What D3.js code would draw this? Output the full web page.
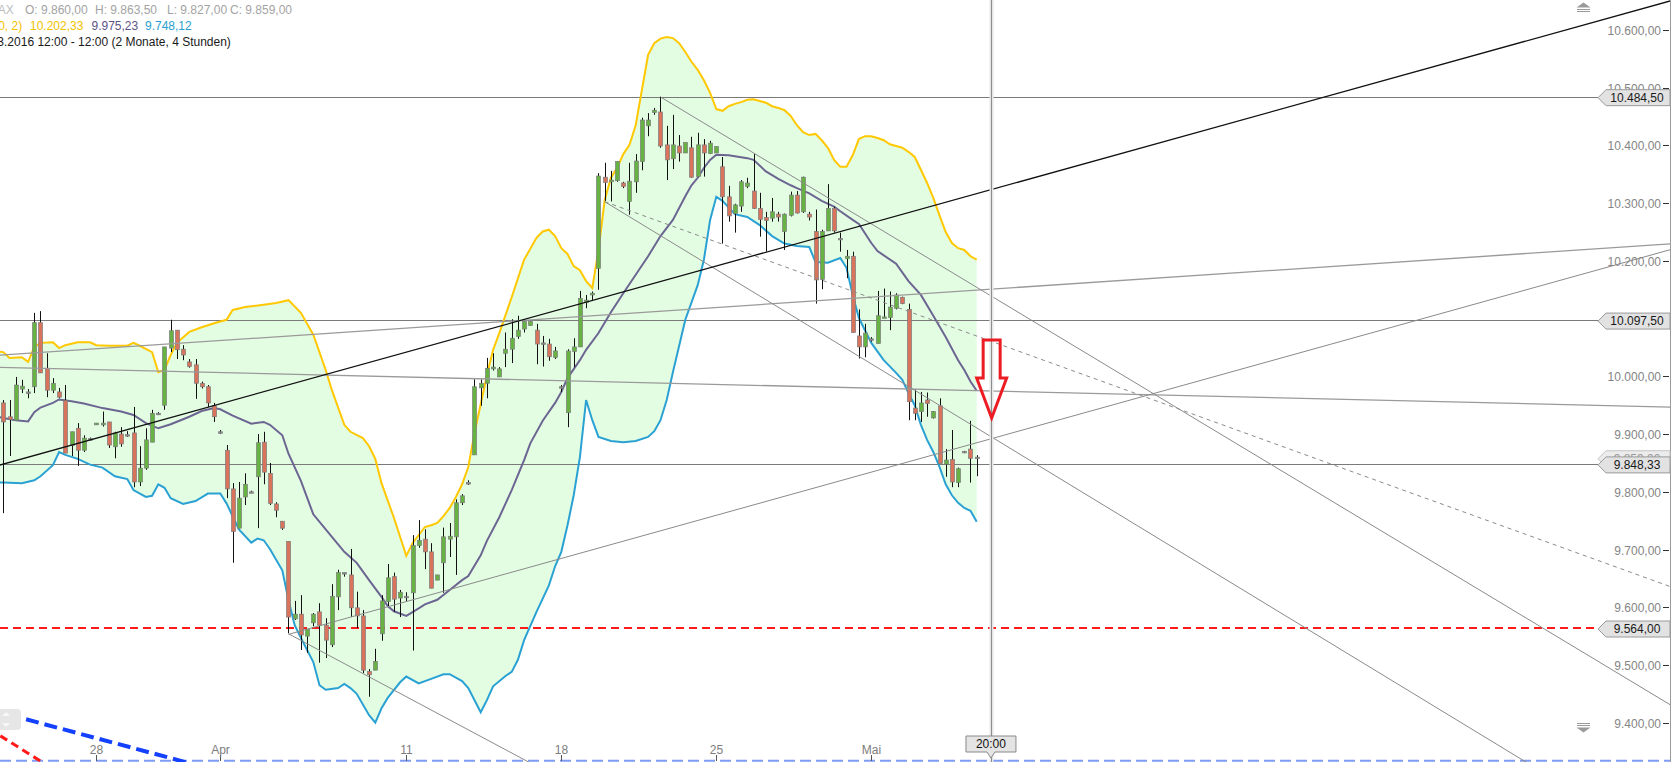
<!DOCTYPE html>
<html><head><meta charset="utf-8">
<script src="https://cdn.jsdelivr.net/npm/d3@7"></script>
<style>
html,body{margin:0;padding:0;background:#fff;overflow:hidden}
svg{display:block;font-family:"Liberation Sans",Arial,sans-serif}
</style></head><body>
<svg id="c" width="1671" height="762"></svg>
<script>
// ---------------- DATA ----------------
const candleOpen = [9954,9930,9924,9978,9972,9982,10093,10014,9976,9973,9958,9880,9910,9872,9892,9916,9916,9921,9878,9900,9898,9902,9817,9841,9886,9935,9950,10049,10080,10047,10025,10020,9988,9982,9949,9904,9872,9805,9737,9791,9800,9826,9886,9832,9779,9749,9714,9580,9588,9550,9573,9592,9569,9535,9618,9659,9656,9599,9585,9489,9491,9554,9610,9653,9616,9618,9625,9707,9718,9696,9647,9677,9718,9722,9781,9815,9864,9980,9988,10013,9999,10040,10047,10069,10082,10088,10080,10058,10056,10033,9982,9937,10043,10051,10128,10141,10187,10345,10337,10339,10335,10303,10337,10372,10434,10457,10458,10401,10377,10399,10387,10396,10346,10401,10386,10387,10363,10311,10282,10295,10329,10321,10291,10275,10274,10281,10251,10279,10314,10285,10281,10251,10168,10252,10291,10239,10204,10208,10070,10051,10064,10057,10101,10102,10118,10137,10116,9945,9939,9959,9928,9949,9848,9856,9816,9870,9874,9860];
const candleHigh = [9959,9959,9999,9994,9978,10110,10113,10040,9997,9980,9985,9904,9919,9898,9894,9919,9939,9921,9904,9912,9905,9947,9879,9910,9942,9938,10051,10098,10080,10054,10030,10030,9991,9985,9954,9907,9881,9815,9817,9832,9802,9900,9904,9850,9782,9749,9714,9611,9621,9562,9590,9607,9581,9640,9665,9660,9701,9627,9595,9493,9528,9621,9675,9660,9630,9626,9725,9751,9735,9711,9656,9738,9746,9787,9796,9820,9995,9995,10032,10040,10016,10076,10099,10105,10099,10095,10091,10070,10065,10051,9985,10047,10066,10148,10141,10147,10352,10370,10356,10373,10337,10370,10385,10448,10456,10465,10484.5,10434,10453,10418,10405,10415,10422,10411,10408,10398,10380,10330,10299,10340,10344,10385,10318,10285,10309,10285,10282,10320,10321,10346,10285,10289,10254,10333,10294,10249,10219,10216,10116,10091,10068,10148,10152,10147,10144,10138,10126,9978,9973,9972,9940,9962,9874,9907,9842,9871,9923,9863.5];
const candleLow = [9763,9862,9924,9971,9962,9971,10006,9964,9971,9962,9867,9862,9845,9869,9890,9916,9913,9876,9858,9878,9895,9808,9810,9838,9886,9933,9942,10042,10030,10028,10015,9961,9979,9947,9921,9900,9789,9677,9737,9777,9798,9737,9813,9777,9756,9734,9555,9578,9526,9521,9567,9504,9512,9531,9595,9653,9583,9564,9486,9445,9491,9542,9601,9592,9583,9610,9525,9703,9666,9633,9647,9625,9687,9656,9777,9812,9864,9949,9962,10010,9999,10016,10023,10065,10076,10088,10021,10017,10027,10030,9973,9912,10016,10051,10118,10132,10150,10304,10303,10337,10326,10280,10318,10357,10416,10453,10396,10340,10359,10372,10387,10344,10345,10346,10385,10387,10230,10268,10249,10285,10326,10290,10242,10216,10268,10268,10219,10277,10282,10283,10270,10126,10151,10252,10249,10216,10170,10076,10031,10033,10060,10057,10101,10080,10116,10125,9924,9924,9921,9930,9927,9849,9826,9808,9808,9867,9816,9827];
const candleClose = [9921,9925,9985,9983,9973,10093,10006,9976,9988,9964,9867,9904,9872,9893,9892,9919,9919,9881,9902,9883,9899,9817,9841,9890,9936,9936,10051,10079,10046,10037,10017,9988,9982,9954,9930,9903,9805,9731,9789,9813,9800,9885,9834,9780,9768,9737,9583,9588,9552,9562,9588,9569,9543,9619,9660,9660,9599,9585,9491,9483,9506,9611,9651,9614,9626,9619,9707,9716,9696,9633,9656,9722,9723,9781,9793,9816,9982,9988,10014,10016,10013,10047,10066,10080,10095,10095,10056,10057,10034,10044,9981,10044,10051,10135,10132,10144,10347,10336,10340,10372,10329,10338,10373,10444,10444,10461,10399,10375,10401,10387,10405,10345,10401,10387,10404,10398,10311,10278,10297,10337,10335,10291,10272,10270,10285,10276,10281,10314,10283,10345,10276,10167,10251,10291,10252,10238,10208,10076,10051,10075,10065,10105,10103,10120,10141,10126,9956,9936,9954,9953,9939,9849,9855,9817,9840,9869,9858,9859];

// Bollinger (20,2) bands: [candle index, value]
const bandUpper = [[-1,10043],[0,10042],[1,10032],[3,10033],[4,10025],[5,10051],[6,10058],[8,10059],[9,10049],[10,10054],[12,10059],[14,10059],[15,10054],[17,10053],[20,10053],[21,10058],[22,10053],[24,10042],[25,10007],[26,10011],[27,10037],[28,10058],[30,10077],[32,10085],[34,10092],[36,10098],[37,10115],[39,10120],[42,10124],[44,10127],[46,10132],[48,10110],[50,10072],[52,10011],[53,9976],[55,9916],[56,9904],[58,9893],[59,9879],[60,9857],[61,9815],[63,9755],[65,9689],[66,9711],[68,9739],[69,9742],[70,9746],[71,9758],[72,9772],[73,9791],[74,9813],[75,9843],[76,9902],[78,10002],[79,10046],[80,10075],[82,10137],[84,10202],[86,10240],[87,10251],[88,10254],[89,10243],[90,10222],[91,10212],[92,10191],[93,10184],[94,10165],[95,10153],[96,10219],[97,10305],[98,10344],[99,10361],[100,10385],[101,10401],[102,10435],[103,10496],[104,10557],[105,10577],[106,10585],[107,10588],[108,10586],[109,10577],[110,10562],[111,10545],[112,10531],[113,10513],[114,10491],[115,10463],[116,10460],[117,10468],[118,10472],[119,10475],[120,10479],[121,10480],[122,10477],[123,10474],[124,10468],[125,10465],[126,10461],[127,10451],[128,10435],[129,10423],[130,10418],[131,10420],[132,10409],[133,10396],[134,10375],[135,10363],[136,10363],[137,10383],[138,10411],[139,10416],[140,10416],[141,10413],[142,10409],[143,10402],[144,10399],[145,10396],[146,10389],[147,10380],[148,10358],[149,10335],[150,10309],[151,10279],[152,10250],[153,10231],[154,10222],[155,10219],[156,10208],[157,10202]];
const bandMiddle = [[-1,9930],[0,9928],[2,9924],[4,9922],[5,9938],[6,9946],[8,9954],[9,9960],[11,9957],[13,9953],[16,9945],[19,9939],[21,9933],[23,9919],[25,9910],[27,9917],[30,9930],[32,9940],[34,9945],[35,9943],[37,9932],[40,9918],[42,9921],[43,9916],[45,9898],[46,9866],[48,9819],[50,9761],[53,9722],[55,9696],[57,9677],[59,9647],[61,9618],[62,9602],[63,9593],[65,9585],[67,9598],[68,9605],[70,9613],[72,9630],[74,9647],[75,9654],[77,9690],[78,9715],[80,9756],[82,9803],[84,9855],[85,9884],[87,9923],[89,9954],[90,9973],[91,9997],[93,10028],[94,10046],[96,10075],[98,10111],[100,10144],[102,10176],[104,10208],[106,10243],[108,10271],[110,10312],[111,10331],[112,10344],[113,10361],[114,10375],[115,10384],[117,10383],[120,10378],[121,10375],[123,10355],[125,10342],[127,10331],[128,10326],[130,10317],[132,10304],[134,10294],[135,10286],[137,10271],[138,10264],[140,10231],[141,10217],[144,10195],[146,10165],[148,10141],[150,10105],[152,10068],[154,10028],[155,10011],[156,9991],[157,9975]];
const bandLower = [[-1,9816],[0,9816],[3,9815],[5,9820],[6,9827],[8,9846],[9,9869],[10,9864],[12,9857],[14,9847],[16,9842],[18,9827],[20,9822],[21,9803],[23,9791],[24,9793],[25,9813],[26,9807],[27,9789],[29,9779],[31,9784],[33,9797],[35,9797],[36,9780],[38,9735],[40,9712],[41,9719],[42,9716],[43,9701],[45,9664],[46,9612],[47,9569],[48,9547],[50,9505],[51,9465],[52,9457],[54,9460],[55,9467],[56,9460],[57,9450],[59,9413],[60,9400],[61,9425],[62,9443],[64,9470],[65,9480],[67,9468],[69,9476],[71,9484],[72,9484],[74,9472],[75,9460],[77,9418],[78,9439],[79,9463],[81,9481],[82,9488],[83,9509],[84,9543],[86,9592],[88,9638],[89,9671],[90,9696],[91,9742],[92,9794],[93,9860],[94,9959],[95,9924],[96,9895],[98,9888],[100,9886],[102,9888],[104,9895],[105,9905],[106,9924],[107,9959],[108,10007],[110,10098],[112,10158],[113,10202],[114,10271],[115,10311],[116,10304],[118,10281],[120,10276],[122,10262],[124,10243],[126,10230],[128,10226],[130,10224],[131,10198],[133,10197],[135,10205],[136,10188],[137,10141],[138,10101],[140,10058],[142,10028],[144,10006],[145,9994],[146,9971],[147,9950],[148,9916],[149,9890],[150,9869],[151,9843],[152,9813],[153,9794],[154,9781],[155,9772],[156,9767],[157,9748]];

// drawn horizontal levels
const levelLines = [10484.5, 10097.5, 9848.33];
const supportLevel = 9564;
const lastPrice = 9859;
const bottomLevel = 9334;

// drawn trend lines: two anchor points [index, price]; kind "line" = both ways, "ray" = from first point
const trendBlack = [[0,9848],[250,10594]];
const trendFlatUp = [[0,10037],[250,10216]];
const trendFlatDown = [[0,10015.5],[250,9951.5]];
const trendRiseLow = [[46,9553],[250,10163]];
const trendTopChannel = [[106,10484],[250,9553]];
const trendLowChannel = [[97,10302.6],[250,9303]];
const trendLowSteep = [[46,9554],[80,9359]];
const trendDashed = [[97,10302.6],[250,9709]];
const trendBlueBold = [[0,9416.5],[30,9330]];
const trendRedBold = [[0,9374],[10,9306.5]];

// annotation arrow and crosshair
const crossIndex = 159.3;
const crossLabel = "20:00";
const arrowPrices = [10063, 9997, 9928]; // top, neck, tip

// axes
const priceTicks = [9400,9500,9600,9700,9800,9900,10000,10100,10200,10300,10400,10500,10600];
const timeTickIndex = [15,35,65,90,115,140];
const timeTickLabels = ["28","Apr","11","18","25","Mai"];

// legend
const legendOHLC = ["O: 9.860,00","H: 9.863,50","L: 9.827,00","C: 9.859,00"];
const legendBands = ["10.202,33","9.975,23","9.748,12"];
const legendPeriod = "08.03.2016 12:00 - 12:00 (2 Monate, 4 Stunden)";

// ---------------- DRAW ----------------
const svg = d3.select("#c");
const x = d3.scaleLinear().domain([0,157]).range([3.3, 3.3+157*6.2]);
const y = d3.scaleLinear().domain([9400,10600]).range([722.7,30]);
const de = d3.formatLocale({decimal:",",thousands:".",grouping:[3],currency:["","€"]});
const fmt = de.format(",.2f");

svg.append("defs").append("clipPath").attr("id","plot")
  .append("rect").attr("x",0).attr("y",0).attr("width",1670).attr("height",762);
const g = svg.append("g").attr("clip-path","url(#plot)");

const line = d3.line().x(d=>x(d[0])).y(d=>y(d[1]));

// band fill
g.append("path")
  .attr("d", line(bandUpper.concat(bandLower.slice().reverse())) + "Z")
  .attr("fill","#e3fde3").attr("stroke","none");

// bottom light blue dashed level
g.append("line").attr("x1",0).attr("x2",1670).attr("y1",y(bottomLevel)).attr("y2",y(bottomLevel))
  .attr("stroke","#7f9bf2").attr("stroke-width",2).attr("stroke-dasharray","11,5");

// horizontal levels
const labelTip = 1598;
levelLines.forEach(v=>{
  g.append("line").attr("x1",0).attr("x2",labelTip).attr("y1",Math.round(y(v))+0.5).attr("y2",Math.round(y(v))+0.5)
    .attr("stroke","#7a7a7a").attr("stroke-width",1);
});
g.append("line").attr("x1",0).attr("x2",1670).attr("y1",y(supportLevel)).attr("y2",y(supportLevel))
  .attr("stroke","#ff1a1a").attr("stroke-width",2).attr("stroke-dasharray","8,5");

// bands lines
g.append("path").attr("d",line(bandUpper)).attr("fill","none").attr("stroke","#ffc800").attr("stroke-width",2);
g.append("path").attr("d",line(bandMiddle)).attr("fill","none").attr("stroke","#6c6592").attr("stroke-width",2);
g.append("path").attr("d",line(bandLower)).attr("fill","none").attr("stroke","#2aa1d3").attr("stroke-width",2);

// candles
const cg = g.append("g");
candleOpen.forEach((o,i)=>{
  const h=candleHigh[i], l=candleLow[i], c=candleClose[i];
  const cx = Math.round(x(i))+0.5;
  cg.append("line").attr("x1",cx).attr("x2",cx).attr("y1",y(h)).attr("y2",y(l))
    .attr("stroke","#111").attr("stroke-width",1);
  const top = y(Math.max(o,c)), bot = y(Math.min(o,c));
  const doji = Math.abs(o-c) < 2;
  cg.append("rect").attr("x",cx-2).attr("y",top).attr("width",4).attr("height",Math.max(1.5,bot-top))
    .attr("fill", doji ? "#8c8c8c" : (c>o ? "#66b343" : "#d9735c"))
    .attr("stroke","#7c7c7c").attr("stroke-width",0.7);
});

// trend lines
function priceAt(seg,i){const [a,b]=seg;return a[1]+(b[1]-a[1])*(i-a[0])/(b[0]-a[0]);}
function drawTrend(seg,kind,stroke,width,dash){
  const i0 = kind==="ray" ? seg[0][0] : -20;
  const i1 = 300;
  const p = g.append("line").attr("x1",x(i0)).attr("y1",y(priceAt(seg,i0)))
    .attr("x2",x(i1)).attr("y2",y(priceAt(seg,i1)))
    .attr("stroke",stroke).attr("stroke-width",width);
  if(dash) p.attr("stroke-dasharray",dash);
}
drawTrend(trendFlatUp,"line","#9a9a9a",1.3);
drawTrend(trendFlatDown,"line","#9a9a9a",1.3);
drawTrend(trendRiseLow,"ray","#8a8a8a",1);
drawTrend(trendTopChannel,"ray","#8a8a8a",1);
drawTrend(trendLowChannel,"ray","#8a8a8a",1);
drawTrend(trendLowSteep,"ray","#8a8a8a",1);
drawTrend(trendDashed,"ray","#8a8a8a",1,"4,4");
drawTrend(trendBlack,"line","#111",1.3);
drawTrend(trendBlueBold,"line","#1440ff",4,"13,6");
drawTrend(trendRedBold,"line","#ff1a1a",3,"8,5");

// crosshair
const cxh = Math.round(x(crossIndex))+0.5;
g.append("line").attr("x1",cxh).attr("x2",cxh).attr("y1",0).attr("y2",762)
  .attr("stroke","#e6e6e6").attr("stroke-width",4);
g.append("line").attr("x1",cxh).attr("x2",cxh).attr("y1",0).attr("y2",762)
  .attr("stroke","#8d8d8d").attr("stroke-width",1);

// arrow
{
  const ax = x(crossIndex)+0.7, yt=y(arrowPrices[0]), yn=y(arrowPrices[1]), yp=y(arrowPrices[2]);
  const sw=8.5, hw=15;
  const d = `M${ax-sw},${yt}L${ax+sw},${yt}L${ax+sw},${yn}L${ax+hw},${yn}L${ax},${yp}L${ax-hw},${yn}L${ax-sw},${yn}Z`;
  svg.append("path").attr("d",d).attr("fill","none").attr("stroke","#ec1c24").attr("stroke-width",3).attr("stroke-linejoin","miter");
}

// scroll widget bottom-left
svg.append("rect").attr("x",-4).attr("y",709).attr("width",25).attr("height",21).attr("rx",4)
  .attr("fill","#e6e6e6");
svg.append("path").attr("d","M6,712L10,716L2,716Z M6,727L10,723L2,723Z").attr("fill","#f8f8f8");

// right border
svg.append("line").attr("x1",1670.5).attr("x2",1670.5).attr("y1",0).attr("y2",762).attr("stroke","#9a9a9a");

// price axis
const ax = svg.append("g");
priceTicks.forEach(v=>{
  const yy = Math.round(y(v))+0.5;
  ax.append("line").attr("x1",1663).attr("x2",1669).attr("y1",yy).attr("y2",yy).attr("stroke","#333");
  ax.append("text").attr("x",1661).attr("y",yy).attr("dy","0.36em").attr("text-anchor","end")
    .attr("font-size",12).attr("fill","#858585").text(fmt(v));
});

// scroll triangles on the price axis
svg.append("path").attr("d","M1576.5,7.5L1583.5,2.5L1590.5,7.5Z").attr("fill","#9a9a9a");
svg.append("path").attr("d","M1577,9.5H1590M1577,11.5H1590").attr("stroke","#9a9a9a").attr("stroke-width",1);
svg.append("path").attr("d","M1577,723.5H1590M1577,725.5H1590").attr("stroke","#9a9a9a").attr("stroke-width",1);
svg.append("path").attr("d","M1576.5,727.5L1583.5,732.5L1590.5,727.5Z").attr("fill","#9a9a9a");

// level labels on the price axis
function priceLabel(v, fill, stroke, color){
  const yc = y(v)+1;
  const d = `M${labelTip},${yc}L${labelTip+8},${yc-8}L1670,${yc-8}L1670,${yc+8}L${labelTip+8},${yc+8}Z`;
  svg.append("path").attr("d",d).attr("fill",fill).attr("stroke",stroke).attr("stroke-width",1);
  svg.append("text").attr("x",1637).attr("y",yc).attr("dy","0.36em").attr("text-anchor","middle")
    .attr("font-size",12).attr("fill",color).text(fmt(v));
}
priceLabel(levelLines[0], "#e2e2e2","#9a9a9a","#1a1a1a");
priceLabel(levelLines[1], "#e2e2e2","#9a9a9a","#1a1a1a");
priceLabel(lastPrice, "#ececec","#c4c4c4","#9a9a9a");
priceLabel(levelLines[2], "#e2e2e2","#9a9a9a","#1a1a1a");
priceLabel(supportLevel, "#e2e2e2","#9a9a9a","#1a1a1a");

// time axis
timeTickIndex.forEach((t,k)=>{
  const xx = Math.round(x(t))+0.5;
  svg.append("line").attr("x1",xx).attr("x2",xx).attr("y1",755).attr("y2",761).attr("stroke","#555");
  svg.append("text").attr("x",xx).attr("y",754).attr("text-anchor","middle")
    .attr("font-size",12).attr("fill","#7d7d7d").text(timeTickLabels[k]);
});

// crosshair time label
{
  const bx = x(crossIndex);
  const d = `M${bx-25},736L${bx+25},736L${bx+25},752L${bx+4},752L${bx},758L${bx-4},752L${bx-25},752Z`;
  svg.append("path").attr("d",d).attr("fill","#e4e4e4").attr("stroke","#8a8a8a");
  svg.append("text").attr("x",bx).attr("y",748).attr("text-anchor","middle").attr("font-size",12)
    .attr("fill","#111").text(crossLabel);
}

// legend
const lg = svg.append("g").attr("font-size",12);
lg.append("text").attr("x",-11).attr("y",14).attr("fill","#bdbdbd").text("DAX");
[25,95,167,230].forEach((xx,k)=>lg.append("text").attr("x",xx).attr("y",14).attr("fill","#a3a3a3").text(legendOHLC[k]));
lg.append("text").attr("x",-12.5).attr("y",30).attr("fill","#f2c200").text("(20, 2)");
lg.append("text").attr("x",30).attr("y",30).attr("fill","#f2c200").text(legendBands[0]);
lg.append("text").attr("x",91.5).attr("y",30).attr("fill","#5b5585").text(legendBands[1]);
lg.append("text").attr("x",145).attr("y",30).attr("fill","#2b9fcf").text(legendBands[2]);
lg.append("text").attr("x",-26).attr("y",46).attr("fill","#1a1a1a").text(legendPeriod);
</script>
</body></html>
